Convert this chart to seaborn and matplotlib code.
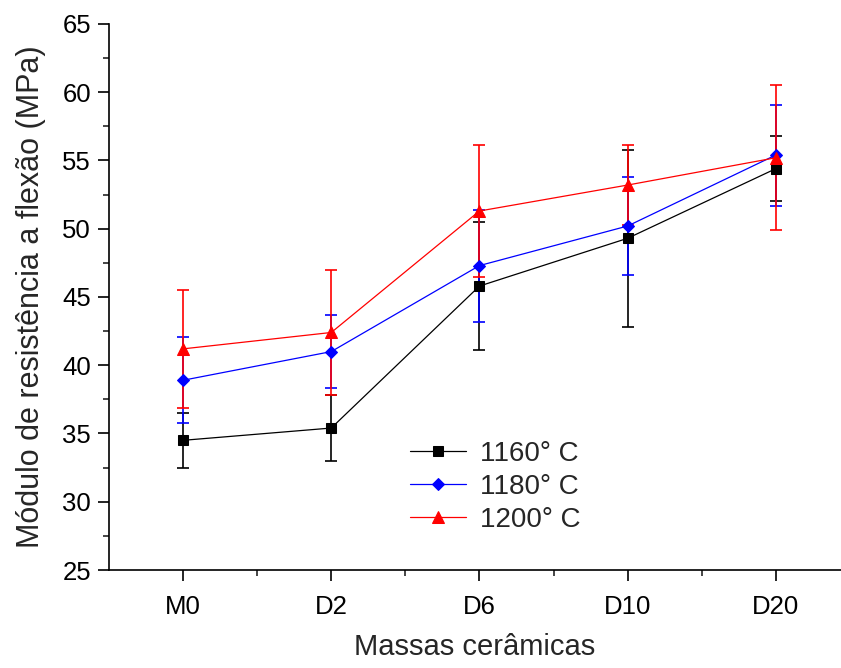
import matplotlib
matplotlib.use('Agg')
import matplotlib.pyplot as plt
import seaborn as sns
import pandas as pd
from matplotlib.ticker import MultipleLocator, FixedLocator

# Dados
massas = ['M0', 'D2', 'D6', 'D10', 'D20']
temperaturas = ['1160° C', '1180° C', '1200° C']
media_1160 = [34.5, 35.4, 45.8, 49.3, 54.4]
media_1180 = [38.9, 41.0, 47.3, 50.2, 55.4]
media_1200 = [41.2, 42.4, 51.3, 53.2, 55.2]
erro_1160 = [2.0, 2.4, 4.7, 6.5, 2.4]
erro_1180 = [3.15, 2.7, 4.1, 3.6, 3.7]
erro_1200 = [4.3, 4.6, 4.8, 2.9, 5.3]

cores = {'1160° C': 'black', '1180° C': 'blue', '1200° C': 'red'}
marcadores = {'1160° C': 's', '1180° C': 'D', '1200° C': '^'}
tamanhos = {'1160° C': 7, '1180° C': 6, '1200° C': 8}

medias = [media_1160, media_1180, media_1200]
erros = [erro_1160, erro_1180, erro_1200]

df = pd.DataFrame({
    'Massa': massas * 3,
    'Temperatura': [t for t in temperaturas for _ in massas],
    'MOR': media_1160 + media_1180 + media_1200,
})

sns.set_style('ticks')
plt.rcParams['font.family'] = ['Liberation Sans', 'DejaVu Sans']

fig = plt.figure(figsize=(8.41, 6.68), dpi=100)
ax = fig.add_axes([0.1296, 0.1467, 0.8704, 0.8174])

# Linhas e barras de erro
for temp, media, erro in zip(temperaturas, medias, erros):
    sub = df[df['Temperatura'] == temp]
    ax.errorbar(massas, media, yerr=erro, fmt='none', ecolor=cores[temp],
                elinewidth=1.2, capsize=4, capthick=1.2, zorder=2)
    sns.lineplot(data=sub, x='Massa', y='MOR', color=cores[temp],
                 marker=marcadores[temp], markersize=tamanhos[temp],
                 markeredgecolor=cores[temp], linewidth=0.9,
                 label=temp, ax=ax, zorder=3)

ax.set_xlim(-0.5, 4.44)
ax.set_ylim(25, 65)
ax.yaxis.set_major_locator(MultipleLocator(5))
ax.yaxis.set_minor_locator(MultipleLocator(2.5))
ax.xaxis.set_minor_locator(FixedLocator([0.5, 1.5, 2.5, 3.5]))
ax.tick_params(axis='both', which='major', length=8, width=1.2, labelsize=18.5,
               colors='black')
ax.tick_params(axis='both', which='minor', length=4, width=1.2)
ax.tick_params(axis='x', pad=10)
ax.tick_params(axis='y', pad=5)

ax.set_xlabel('Massas cerâmicas', fontsize=21, labelpad=10)
ax.set_ylabel('Módulo de resistência a flexão (MPa)', fontsize=22, labelpad=12)

for s in ['left', 'bottom']:
    ax.spines[s].set_linewidth(1.2)
    ax.spines[s].set_color('black')
sns.despine(ax=ax)

ax.legend(loc='upper left', bbox_to_anchor=(0.385, 0.272), frameon=False,
          fontsize=20, handlelength=2.0, labelspacing=0.25, handletextpad=0.5,
          borderaxespad=0.3)

fig.savefig('out.png', dpi=100)
